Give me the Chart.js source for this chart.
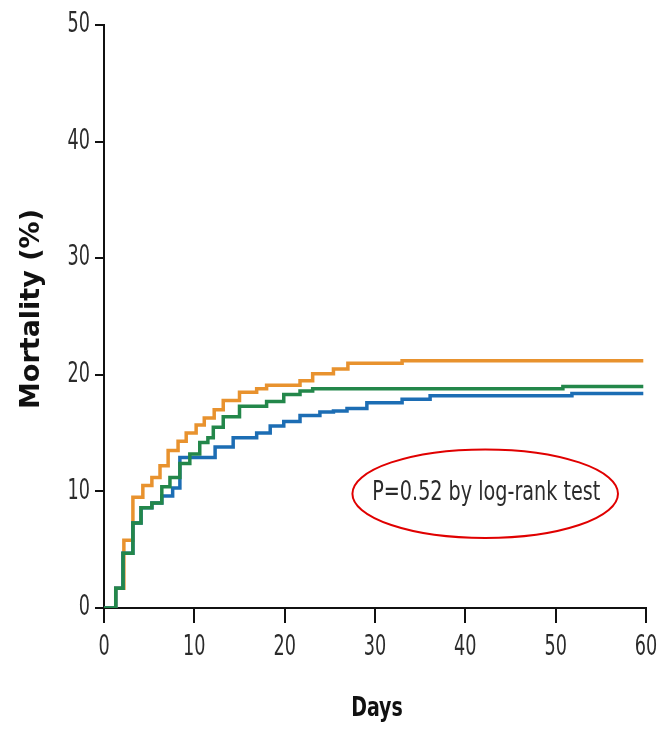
<!DOCTYPE html>
<html>
  <head>
    <script src="https://cdn.jsdelivr.net/npm/chart.js@4"></script>
    <style>
      html, body { margin: 0; padding: 0; background: #fff; }
    </style>
  </head>

  <body>
    <div style="width: 664px; height: 730px">
      <canvas id="canvas"></canvas>
    </div>
    <script>
      // Kaplan-Meier style step data (day, cumulative mortality %)
      const orangeDays = [0, 1.3, 2.2, 3.2, 4.3, 5.3, 6.2, 7.1, 8.2, 9.1, 10.2, 11.1, 12.2, 13.2, 15.0, 16.9, 18.0, 21.7, 23.1, 25.4, 27.0, 33.0, 59.7];
      const orangeMort = [0, 1.7, 5.8, 9.5, 10.5, 11.2, 12.2, 13.5, 14.3, 15.0, 15.7, 16.3, 17.0, 17.8, 18.5, 18.8, 19.1, 19.5, 20.1, 20.5, 21.0, 21.2, 21.2];

      const greenDays = [0, 1.3, 2.1, 3.2, 4.1, 5.3, 6.4, 7.3, 8.4, 9.5, 10.6, 11.5, 12.1, 13.2, 15.0, 18.0, 19.9, 21.7, 23.1, 50.8, 59.7];
      const greenMort = [0, 1.7, 4.7, 7.3, 8.6, 9.0, 10.4, 11.2, 12.4, 13.2, 14.2, 14.6, 15.5, 16.4, 17.3, 17.7, 18.3, 18.6, 18.8, 19.0, 19.0];

      const blueDays = [0, 1.3, 2.1, 3.2, 4.1, 5.3, 6.4, 7.6, 8.4, 12.3, 14.3, 16.9, 18.4, 19.9, 21.7, 23.9, 25.4, 26.9, 29.1, 33.0, 36.1, 51.8, 59.7];
      const blueMort = [0, 1.7, 4.7, 7.3, 8.6, 9.0, 9.6, 10.3, 12.9, 13.8, 14.6, 15.0, 15.6, 16.0, 16.5, 16.8, 16.9, 17.1, 17.6, 17.9, 18.2, 18.4, 18.4];

      const xTicks = [0, 10, 20, 30, 40, 50, 60];
      const yTicks = [0, 10, 20, 30, 40, 50];
      const xTitle = 'Days';
      const yTitle = 'Mortality (%)';
      const pText = 'P=0.52 by log-rank test';

      const toPoints = (xs, ys) => xs.map((x, i) => ({ x: x, y: ys[i] }));
      const COND = '"DejaVu Sans Condensed", "DejaVu Sans", sans-serif';

      // text squeezed horizontally to look like the condensed face of the original
      function narrowText(ctx, text, x, y, font, sx, align, baseline) {
        ctx.save();
        ctx.font = font;
        ctx.textAlign = align;
        ctx.textBaseline = baseline;
        ctx.translate(x, y);
        ctx.scale(sx, 1);
        ctx.fillText(text, 0, 0);
        ctx.restore();
      }

      // tick labels and axis titles, positioned from the chart's own scales
      const axisText = {
        id: 'axisText',
        afterDraw(chart) {
          const { ctx, scales, chartArea } = chart;
          ctx.save();
          ctx.fillStyle = '#2b2b2b';
          const numFont = '28px ' + COND;
          scales.y.ticks.forEach((t) => {
            narrowText(ctx, String(t.value), chartArea.left - 14, scales.y.getPixelForValue(t.value), numFont, 0.7, 'right', 'middle');
          });
          scales.x.ticks.forEach((t) => {
            narrowText(ctx, String(t.value), scales.x.getPixelForValue(t.value), chartArea.bottom + 40, numFont, 0.7, 'center', 'middle');
          });
          ctx.fillStyle = '#111';
          narrowText(ctx, xTitle, (chartArea.left + chartArea.right) / 2 + 2, 716, 'bold 27px ' + COND, 0.78, 'center', 'alphabetic');
          ctx.save();
          ctx.translate(32, 309);
          ctx.rotate(-Math.PI / 2);
          ctx.font = 'bold 27px "DejaVu Sans", sans-serif';
          ctx.textAlign = 'center';
          ctx.textBaseline = 'middle';
          ctx.fillText(yTitle, 0, 0);
          ctx.restore();
          ctx.restore();
        },
      };

      // red ellipse with the log-rank text, placed in data units
      const pAnnotation = {
        id: 'pAnnotation',
        afterDatasetsDraw(chart) {
          const { ctx, scales } = chart;
          const cx = scales.x.getPixelForValue(42.2);
          const cy = scales.y.getPixelForValue(9.8);
          const rx = scales.x.getPixelForValue(14.7) - scales.x.getPixelForValue(0);
          const ry = scales.y.getPixelForValue(0) - scales.y.getPixelForValue(3.8);
          ctx.save();
          ctx.beginPath();
          ctx.ellipse(cx, cy, rx, ry, 0, 0, Math.PI * 2);
          ctx.strokeStyle = '#e00000';
          ctx.lineWidth = 2;
          ctx.stroke();
          ctx.fillStyle = '#2b2b2b';
          const font = '26px ' + COND;
          ctx.font = font;
          const sx = 228 / ctx.measureText(pText).width;
          narrowText(ctx, pText, cx + 1, cy + 6, font, sx, 'center', 'alphabetic');
          ctx.restore();
        },
      };

      new Chart(document.getElementById('canvas').getContext('2d'), {
        type: 'line',
        data: {
          datasets: [
            { label: 'Green', data: toPoints(greenDays, greenMort), borderColor: '#23874a' },
            { label: 'Blue', data: toPoints(blueDays, blueMort), borderColor: '#1c6db4' },
            { label: 'Orange', data: toPoints(orangeDays, orangeMort), borderColor: '#e8922e' },
          ].map((d) => Object.assign(d, { stepped: 'before', borderWidth: 3.5, pointRadius: 0, fill: false })),
        },
        options: {
          responsive: true,
          maintainAspectRatio: false,
          animation: false,
          layout: { padding: { top: 25, right: 18, left: 0, bottom: 0 } },
          plugins: {
            legend: { display: false },
            tooltip: { enabled: false },
          },
          scales: {
            x: {
              type: 'linear',
              min: 0,
              max: 60,
              afterFit: (scale) => { scale.height = 122; },
              afterBuildTicks: (scale) => { scale.ticks = xTicks.map((v) => ({ value: v })); },
              grid: { drawOnChartArea: false, drawTicks: true, tickLength: 15, color: '#111', lineWidth: 2 },
              border: { display: true, color: '#111', width: 2 },
              ticks: { display: false },
            },
            y: {
              min: 0,
              max: 50,
              afterFit: (scale) => { scale.width = 104; },
              afterBuildTicks: (scale) => { scale.ticks = yTicks.map((v) => ({ value: v })); },
              grid: { drawOnChartArea: false, drawTicks: true, tickLength: 9, color: '#111', lineWidth: 2 },
              border: { display: true, color: '#111', width: 2 },
              ticks: { display: false },
            },
          },
        },
        plugins: [pAnnotation, axisText],
      });
    </script>
  </body>
</html>
